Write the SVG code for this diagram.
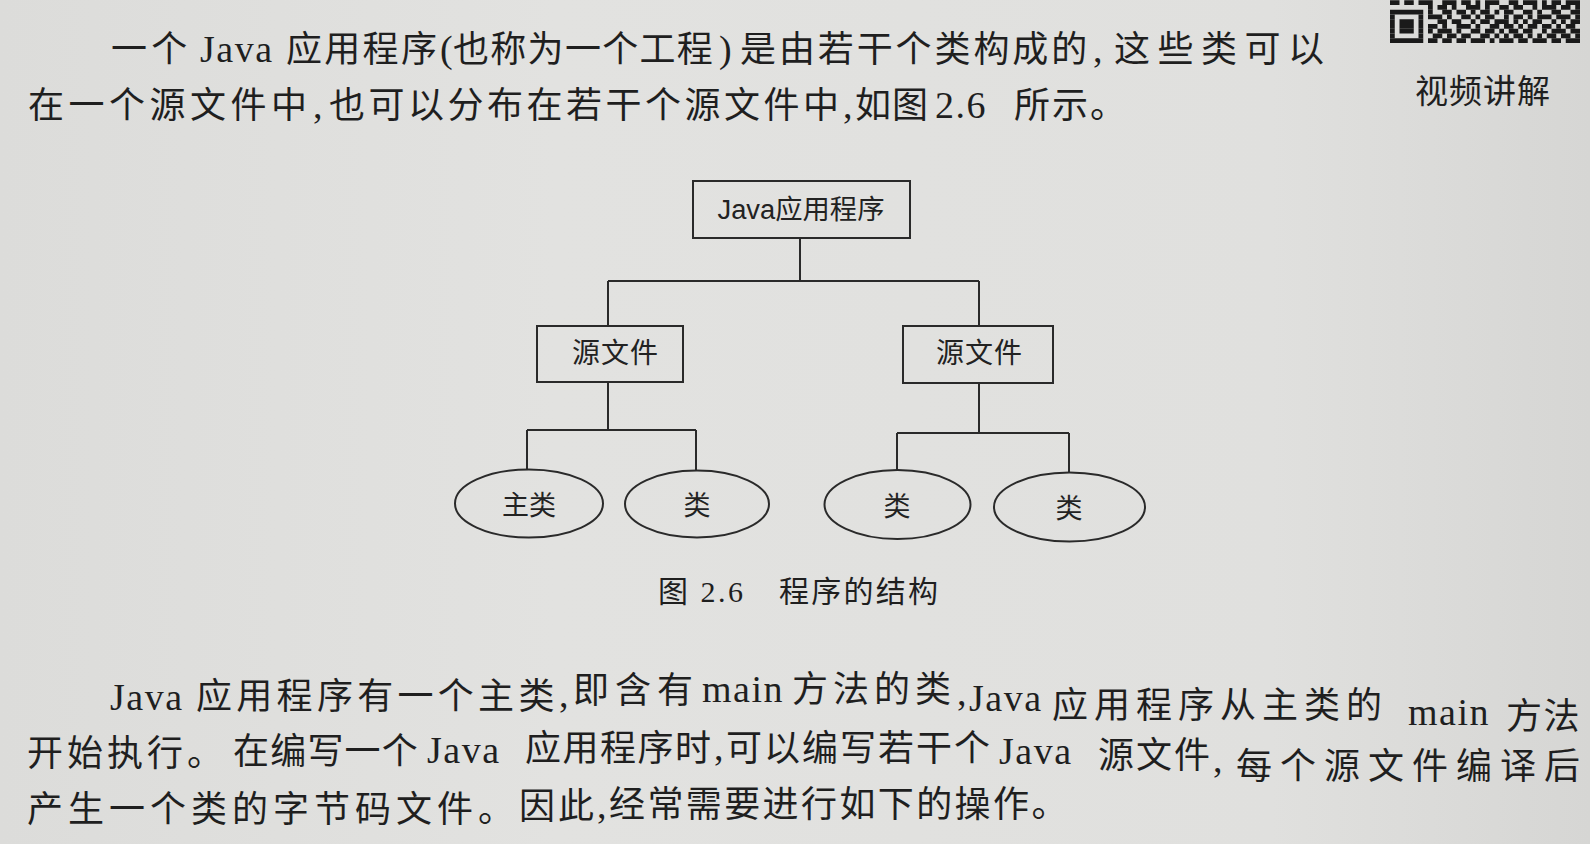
<svg xmlns="http://www.w3.org/2000/svg" width="1590" height="844" viewBox="0 0 1590 844">
<defs>
<linearGradient id="paper" x1="0" y1="0" x2="1" y2="0">
<stop offset="0" stop-color="#dcdcda"/>
<stop offset="0.35" stop-color="#e2e2e0"/>
<stop offset="0.8" stop-color="#e0e0de"/>
<stop offset="1" stop-color="#d6d6d4"/>
</linearGradient>
</defs>
<style>
.body{font-family:"Liberation Serif","Noto Sans CJK SC",serif;font-size:36px;fill:#1f1f1f}
.lat{font-size:38px;letter-spacing:1.5px}
.pun{font-size:38px;letter-spacing:0px}
.side{font-family:"Liberation Serif","Noto Sans CJK SC",serif;font-size:33px;letter-spacing:1px;fill:#1f1f1f}
.cap{font-family:"Liberation Serif","Noto Sans CJK SC",serif;font-size:30px;fill:#1f1f1f}
.lbl{font-family:"Liberation Sans","Noto Sans CJK SC",sans-serif;font-size:28px;fill:#222;text-anchor:middle}
.lbl2{font-family:"Liberation Sans","Noto Sans CJK SC",sans-serif;font-size:27px;fill:#222;text-anchor:middle}
.shape{fill:none;stroke:#2a2a2a;stroke-width:2}
.conn{fill:none;stroke:#2a2a2a;stroke-width:2}
</style>
<rect x="0" y="0" width="1590" height="844" fill="url(#paper)"/>

<g id="page-text">
<text class="body"><tspan x="111" y="62" letter-spacing="4.3">一个</tspan><tspan class="lat" x="200" y="62">Java</tspan><tspan x="286" y="62" letter-spacing="2.3">应用程序</tspan><tspan class="pun" x="440" y="62">(</tspan><tspan x="453" y="62" letter-spacing="1.3">也称为一个工程</tspan><tspan class="pun" x="719" y="62">)</tspan><tspan x="740" y="62" letter-spacing="2.9">是由若干个类构成的</tspan><tspan class="pun" x="1093" y="62">,</tspan><tspan x="1114" y="62" letter-spacing="7.5">这些类可以</tspan></text>
<text class="body"><tspan x="28" y="118" letter-spacing="4.5">在一个源文件中</tspan><tspan class="pun" x="313" y="118">,</tspan><tspan x="329" y="118" letter-spacing="3.5">也可以分布在若干个源文件中</tspan><tspan class="pun" x="843" y="118">,</tspan><tspan x="855" y="118" letter-spacing="1">如图</tspan><tspan class="lat" x="935" y="118" letter-spacing="6">2.6</tspan><tspan x="1014" y="118" letter-spacing="2">所示。</tspan></text>
<text class="body"><tspan class="lat" x="110" y="710">Java</tspan><tspan x="196" y="709" letter-spacing="4.3">应用程序有一个主类</tspan><tspan class="pun" x="559" y="707">,</tspan><tspan x="573" y="703" letter-spacing="6">即含有</tspan><tspan class="lat" x="702" y="702">main</tspan><tspan x="792" y="702" letter-spacing="5">方法的类</tspan><tspan class="pun" x="957" y="705">,</tspan><tspan class="lat" x="969" y="711">Java</tspan><tspan x="1052" y="718" letter-spacing="6">应用程序从主类的</tspan><tspan class="lat" x="1408" y="725" letter-spacing="1">main</tspan><tspan x="1506" y="729" letter-spacing="1.5">方法</tspan></text>
<text class="body"><tspan x="27" y="766" letter-spacing="4">开始执行。</tspan><tspan x="233" y="764" letter-spacing="1.2">在编写一个</tspan><tspan class="lat" x="427" y="763">Java</tspan><tspan x="525" y="761" letter-spacing="1.5">应用程序时</tspan><tspan class="pun" x="714" y="760">,</tspan><tspan x="726" y="761" letter-spacing="2">可以编写若干个</tspan><tspan class="lat" x="999" y="764">Java</tspan><tspan x="1098" y="768" letter-spacing="2">源文件</tspan><tspan class="pun" x="1213" y="772">,</tspan><tspan x="1236" y="779" letter-spacing="8">每个源文件编译后</tspan></text>
<text class="body"><tspan x="27" y="822" letter-spacing="5">产生一个类的字节码文件。</tspan><tspan x="519" y="819" letter-spacing="3">因此</tspan><tspan class="pun" x="597" y="818">,</tspan><tspan x="609" y="817" letter-spacing="2.4">经常需要进行如下的操作。</tspan></text>
<text class="side" x="1415" y="103">视频讲解</text>
</g>

<g id="qr-code" transform="translate(1390 0.25) scale(4.75)" fill="#1a1a1a">
<path d="M0 0h2v1h-2zM3 0h2v1h-2zM6 0h3v1h-3zM11 0h3v1h-3zM15 0h2v1h-2zM18 0h1v1h-1zM20 0h3v1h-3zM25 0h2v1h-2zM28 0h3v1h-3zM32 0h1v1h-1zM34 0h2v1h-2zM37 0h3v1h-3z"/>
<path d="M8 1h1v1h-1zM10 1h2v1h-2zM13 1h1v1h-1zM16 1h3v1h-3zM20 1h1v1h-1zM23 1h2v1h-2zM26 1h2v1h-2zM30 1h1v1h-1zM32 1h3v1h-3zM36 1h2v1h-2zM39 1h1v1h-1z"/>
<path d="M0 2h7v1h-7zM8 2h1v1h-1zM11 2h2v1h-2zM14 2h2v1h-2zM17 2h1v1h-1zM19 2h2v1h-2zM22 2h1v1h-1zM24 2h2v1h-2zM28 2h2v1h-2zM31 2h1v1h-1zM34 2h2v1h-2zM38 2h2v1h-2z"/>
<path d="M0 3h1v1h-1zM6 3h1v1h-1zM8 3h3v1h-3zM12 3h1v1h-1zM15 3h2v1h-2zM18 3h1v1h-1zM20 3h2v1h-2zM24 3h1v1h-1zM26 3h2v1h-2zM29 3h1v1h-1zM31 3h3v1h-3zM35 3h3v1h-3zM39 3h1v1h-1z"/>
<path d="M0 4h1v1h-1zM2 4h3v1h-3zM6 4h1v1h-1zM10 4h2v1h-2zM13 4h2v1h-2zM17 4h1v1h-1zM19 4h2v1h-2zM22 4h3v1h-3zM26 4h1v1h-1zM28 4h1v1h-1zM30 4h2v1h-2zM34 4h1v1h-1zM36 4h1v1h-1zM38 4h2v1h-2z"/>
<path d="M0 5h1v1h-1zM2 5h3v1h-3zM6 5h1v1h-1zM8 5h2v1h-2zM11 5h1v1h-1zM14 5h3v1h-3zM18 5h1v1h-1zM21 5h2v1h-2zM24 5h2v1h-2zM27 5h1v1h-1zM29 5h2v1h-2zM32 5h2v1h-2zM35 5h1v1h-1zM37 5h2v1h-2z"/>
<path d="M0 6h1v1h-1zM2 6h3v1h-3zM6 6h1v1h-1zM8 6h1v1h-1zM10 6h3v1h-3zM14 6h1v1h-1zM17 6h2v1h-2zM20 6h2v1h-2zM23 6h1v1h-1zM25 6h2v1h-2zM28 6h2v1h-2zM32 6h1v1h-1zM34 6h3v1h-3zM38 6h2v1h-2z"/>
<path d="M0 7h1v1h-1zM6 7h1v1h-1zM9 7h2v1h-2zM12 7h2v1h-2zM15 7h2v1h-2zM19 7h2v1h-2zM22 7h1v1h-1zM24 7h1v1h-1zM26 7h2v1h-2zM29 7h1v1h-1zM31 7h1v1h-1zM33 7h2v1h-2zM36 7h2v1h-2zM39 7h1v1h-1z"/>
<path d="M0 8h7v1h-7zM8 8h2v1h-2zM11 8h2v1h-2zM14 8h2v1h-2zM17 8h3v1h-3zM21 8h1v1h-1zM23 8h3v1h-3zM27 8h2v1h-2zM30 8h3v1h-3zM34 8h2v1h-2zM37 8h3v1h-3z"/>
</g>

<g id="connectors">
<path class="conn" d="M800 238V281M608 281H979M608 281V326M979 281V326"/>
<path class="conn" d="M608 382V430M527 430H696M527 430V469M696 430V471"/>
<path class="conn" d="M979 383V433M897 433H1069M897 433V470M1069 433V472"/>
</g>

<g id="node-app">
<rect class="shape" x="693" y="181" width="217" height="57"/>
<text class="lbl2" x="801" y="219" textLength="167" lengthAdjust="spacingAndGlyphs">Java应用程序</text>
</g>
<g id="node-src1">
<rect class="shape" x="537" y="326" width="146" height="56"/>
<text class="lbl" x="615" y="363" textLength="86" lengthAdjust="spacing">源文件</text>
</g>
<g id="node-src2">
<rect class="shape" x="903" y="326" width="150" height="57"/>
<text class="lbl" x="979" y="363" textLength="86" lengthAdjust="spacing">源文件</text>
</g>
<g id="node-main">
<ellipse class="shape" cx="529" cy="503.5" rx="74" ry="34"/>
<text class="lbl2" x="529" y="515">主类</text>
</g>
<g id="node-class1">
<ellipse class="shape" cx="697" cy="504" rx="72" ry="33.5"/>
<text class="lbl2" x="697" y="515">类</text>
</g>
<g id="node-class2">
<ellipse class="shape" cx="897.5" cy="504.5" rx="73" ry="34.5"/>
<text class="lbl2" x="897" y="516">类</text>
</g>
<g id="node-class3">
<ellipse class="shape" cx="1069.5" cy="507" rx="75.5" ry="34.5"/>
<text class="lbl2" x="1069" y="518">类</text>
</g>

<g id="caption">
<text class="cap" y="602"><tspan x="658" textLength="85" lengthAdjust="spacing">图 2.6</tspan><tspan x="779" textLength="159" lengthAdjust="spacing">程序的结构</tspan></text>
</g>
</svg>
